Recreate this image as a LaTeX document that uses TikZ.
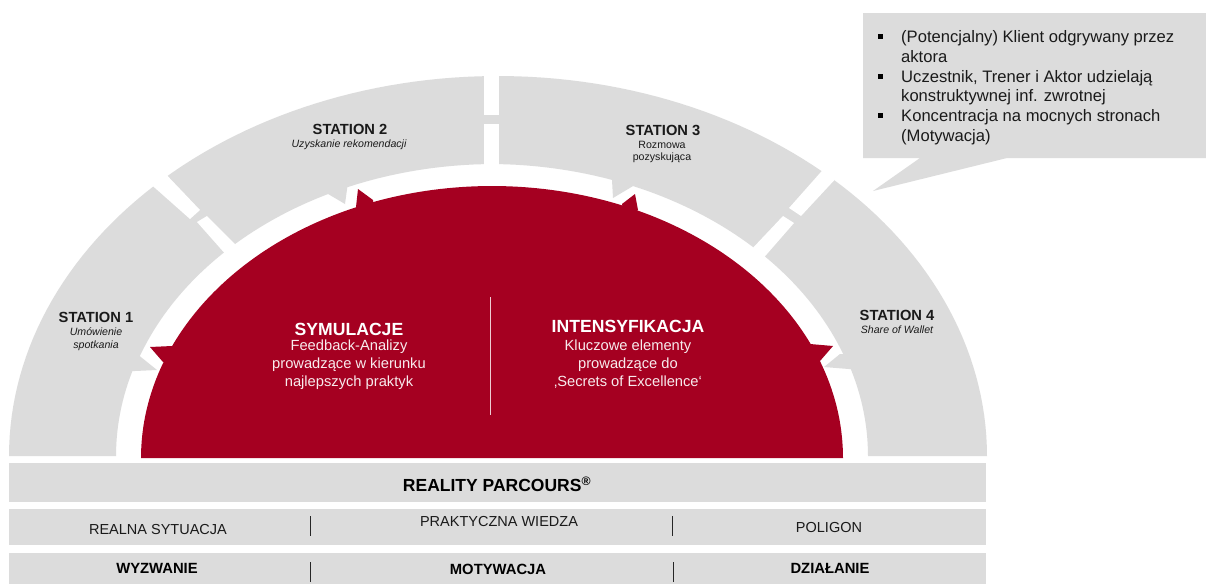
\documentclass[tikz,border=0pt]{standalone}
\usepackage{fontspec}
\setmainfont{Liberation Sans}
\definecolor{bandgray}{HTML}{DCDCDC}
\definecolor{bordeaux}{HTML}{A50021}
\definecolor{inktext}{HTML}{1A1A1A}
\tikzset{
  bar/.style={fill=bandgray,draw=none},
  gapstrip/.style={fill=white,draw=none},
  stationtitle/.style={font=\fontsize{14.7}{14.7}\selectfont\bfseries,text=inktext,inner sep=0pt},
  stationsub/.style={font=\fontsize{10.6}{12.8}\selectfont\itshape,text=inktext,inner sep=0pt,align=center},
  stationsubup/.style={font=\fontsize{10.6}{12.8}\selectfont,text=inktext,inner sep=0pt,align=center},
  redtitle/.style={font=\fontsize{17.6}{17.6}\selectfont\bfseries,text=white,inner sep=0pt},
  redbody/.style={font=\fontsize{14.7}{18}\selectfont,text=white!92!bordeaux,inner sep=0pt,align=center},
  barplain/.style={font=\fontsize{14.5}{14.5}\selectfont,text=inktext,inner sep=0pt},
  barbold/.style={font=\fontsize{14.8}{14.8}\selectfont\bfseries,text=black,inner sep=0pt},
  sep/.style={draw=black!85,line width=0.9pt},
  calltext/.style={font=\fontsize{16.6}{16.6}\selectfont,text=inktext,inner sep=0pt,anchor=base west},
  sqbullet/.style={fill=black,inner sep=0pt,minimum size=5pt,draw=none},
}
\begin{document}
\begin{tikzpicture}[x=1pt,y=-1pt]
\useasboundingbox (0,0) rectangle (1206,584);
\fill[white] (0,0) rectangle (1206,584);

% grey band: outer ellipse, inner edge with the arrow-shaped notches
\fill[bandgray]
  plot[domain=180:0,samples=120] ({498+489*cos(\x)},{456-380*sin(\x)})
  -- plot[domain=0:17.3,samples=15] ({489+379*cos(\x)},{456-292*sin(\x)})
  -- (824,367) -- (840,354)
  -- plot[domain=20.4:67.6,samples=40] ({489+378*cos(\x)},{456-292*sin(\x)})
  -- (613,198) -- (612,180)
  -- plot[domain=71:90,samples=15] ({489+378*cos(\x)},{456-292*sin(\x)})
  -- plot[domain=90:113,samples=15] ({495+378*cos(\x)},{456-292*sin(\x)})
  -- (345,204)
  -- plot[domain=116.2:160,samples=40] ({495+378*cos(\x)},{456-292*sin(\x)})
  -- (157,370)
  -- plot[domain=163.1:180,samples=15] ({495+379*cos(\x)},{456-292*sin(\x)})
  -- cycle;

% white gaps between the stations
\fill[gapstrip] (146,180) -- (160,168) -- (200,210) -- (190,219) -- cycle;
\fill[gapstrip] (197,222) -- (207,216) -- (238,247) -- (228,257) -- cycle;
\fill[gapstrip] (484,60) rectangle (499,115);
\fill[gapstrip] (484,124) rectangle (499,170);
\fill[gapstrip] (828,164) -- (840,174) -- (801,216) -- (789,208) -- cycle;
\fill[gapstrip] (783,216) -- (794,223) -- (760,262) -- (749,252) -- cycle;

% red dome with its four tips
\fill[bordeaux] plot[domain=180:0,samples=160] ({492+351*cos(\x)},{458-272*sin(\x)}) -- cycle;
\fill[bordeaux] (163,362) -- (150,347) -- (172,346) -- (185,365) -- cycle;
\fill[bordeaux] (356,207) -- (358,189) -- (373,200) -- (375,215) -- cycle;
\fill[bordeaux] (622,204) -- (635,194) -- (638,210) -- (625,220) -- cycle;
\fill[bordeaux] (810,344) -- (833,346) -- (820,361) -- (800,365) -- cycle;
\coordinate (divtop) at (490,297);
\coordinate (divbot) at (490,415);
\draw[white!80!bordeaux,line width=1pt] (divtop) -- (divbot);

% callout
\fill[bandgray] (863,13) -- (1206,13) -- (1206,158) -- (1007,158) -- (873,191) -- (920,158) -- (863,158) -- cycle;

% bars
\fill[bar] (9,463) rectangle (986,502);
\fill[bar] (9,509) rectangle (986,545);
\fill[bar] (9,553) rectangle (986,584);

\coordinate (s1a) at (310,516); \coordinate (s1b) at (310,536);
\coordinate (s2a) at (672,516); \coordinate (s2b) at (672,536);
\coordinate (s3a) at (310,562); \coordinate (s3b) at (310,582);
\coordinate (s4a) at (673,562); \coordinate (s4b) at (673,582);
\draw[sep] (s1a) -- (s1b);
\draw[sep] (s2a) -- (s2b);
\draw[sep] (s3a) -- (s3b);
\draw[sep] (s4a) -- (s4b);

% station labels
\node[stationtitle] (st1) at (96,317) {STATION 1};
\node[stationsub] (st1s) at (96,339) {Umówienie\\spotkania};
\node[stationtitle] (st2) at (350,129) {STATION 2};
\node[stationsub] (st2s) at (349,145) {Uzyskanie rekomendacji};
\node[stationtitle] (st3) at (663,130) {STATION 3};
\node[stationsubup] (st3s) at (662,152) {Rozmowa\\pozyskująca};
\node[stationtitle] (st4) at (897,315) {STATION 4};
\node[stationsub] (st4s) at (897,330) {Share of Wallet};

% red labels
\node[redtitle] (sym) at (349,329) {SYMULACJE};
\node[redbody] (symb) at (349,365) {Feedback-Analizy\\prowadzące w kierunku\\najlepszych praktyk};
\node[redtitle] (int) at (628,326) {INTENSYFIKACJA};
\node[redbody] (intb) at (628,364) {Kluczowe elementy\\prowadzące do\\‚Secrets of Excellence‘};

% bar labels
\node[font=\fontsize{17.5}{17.5}\selectfont\bfseries,text=black,inner sep=0pt] (rp) at (497,484) {REALITY PARCOURS\textsuperscript{®}};
\node[barplain] (b1) at (158,529) {REALNA SYTUACJA};
\node[barplain] (b2) at (499,521) {PRAKTYCZNA WIEDZA};
\node[barplain] (b3) at (829,527) {POLIGON};
\node[barbold] (c1) at (157,568) {WYZWANIE};
\node[barbold] (c2) at (498,569) {MOTYWACJA};
\node[barbold] (c3) at (830,568) {DZIAŁANIE};

% callout text
\node[sqbullet] (bu1) at (880,36) {};
\node[sqbullet] (bu2) at (880,76) {};
\node[sqbullet] (bu3) at (880,115) {};
\node[calltext] (t1) at (901,42) {(Potencjalny) Klient odgrywany przez};
\node[calltext] (t2) at (901,62) {aktora};
\node[calltext] (t3) at (901,82) {Uczestnik, Trener i Aktor udzielają};
\node[calltext] (t4) at (901,101) {konstruktywnej inf. zwrotnej};
\node[calltext] (t5) at (901,121) {Koncentracja na mocnych stronach};
\node[calltext] (t6) at (901,141) {(Motywacja)};
\end{tikzpicture}
\end{document}
